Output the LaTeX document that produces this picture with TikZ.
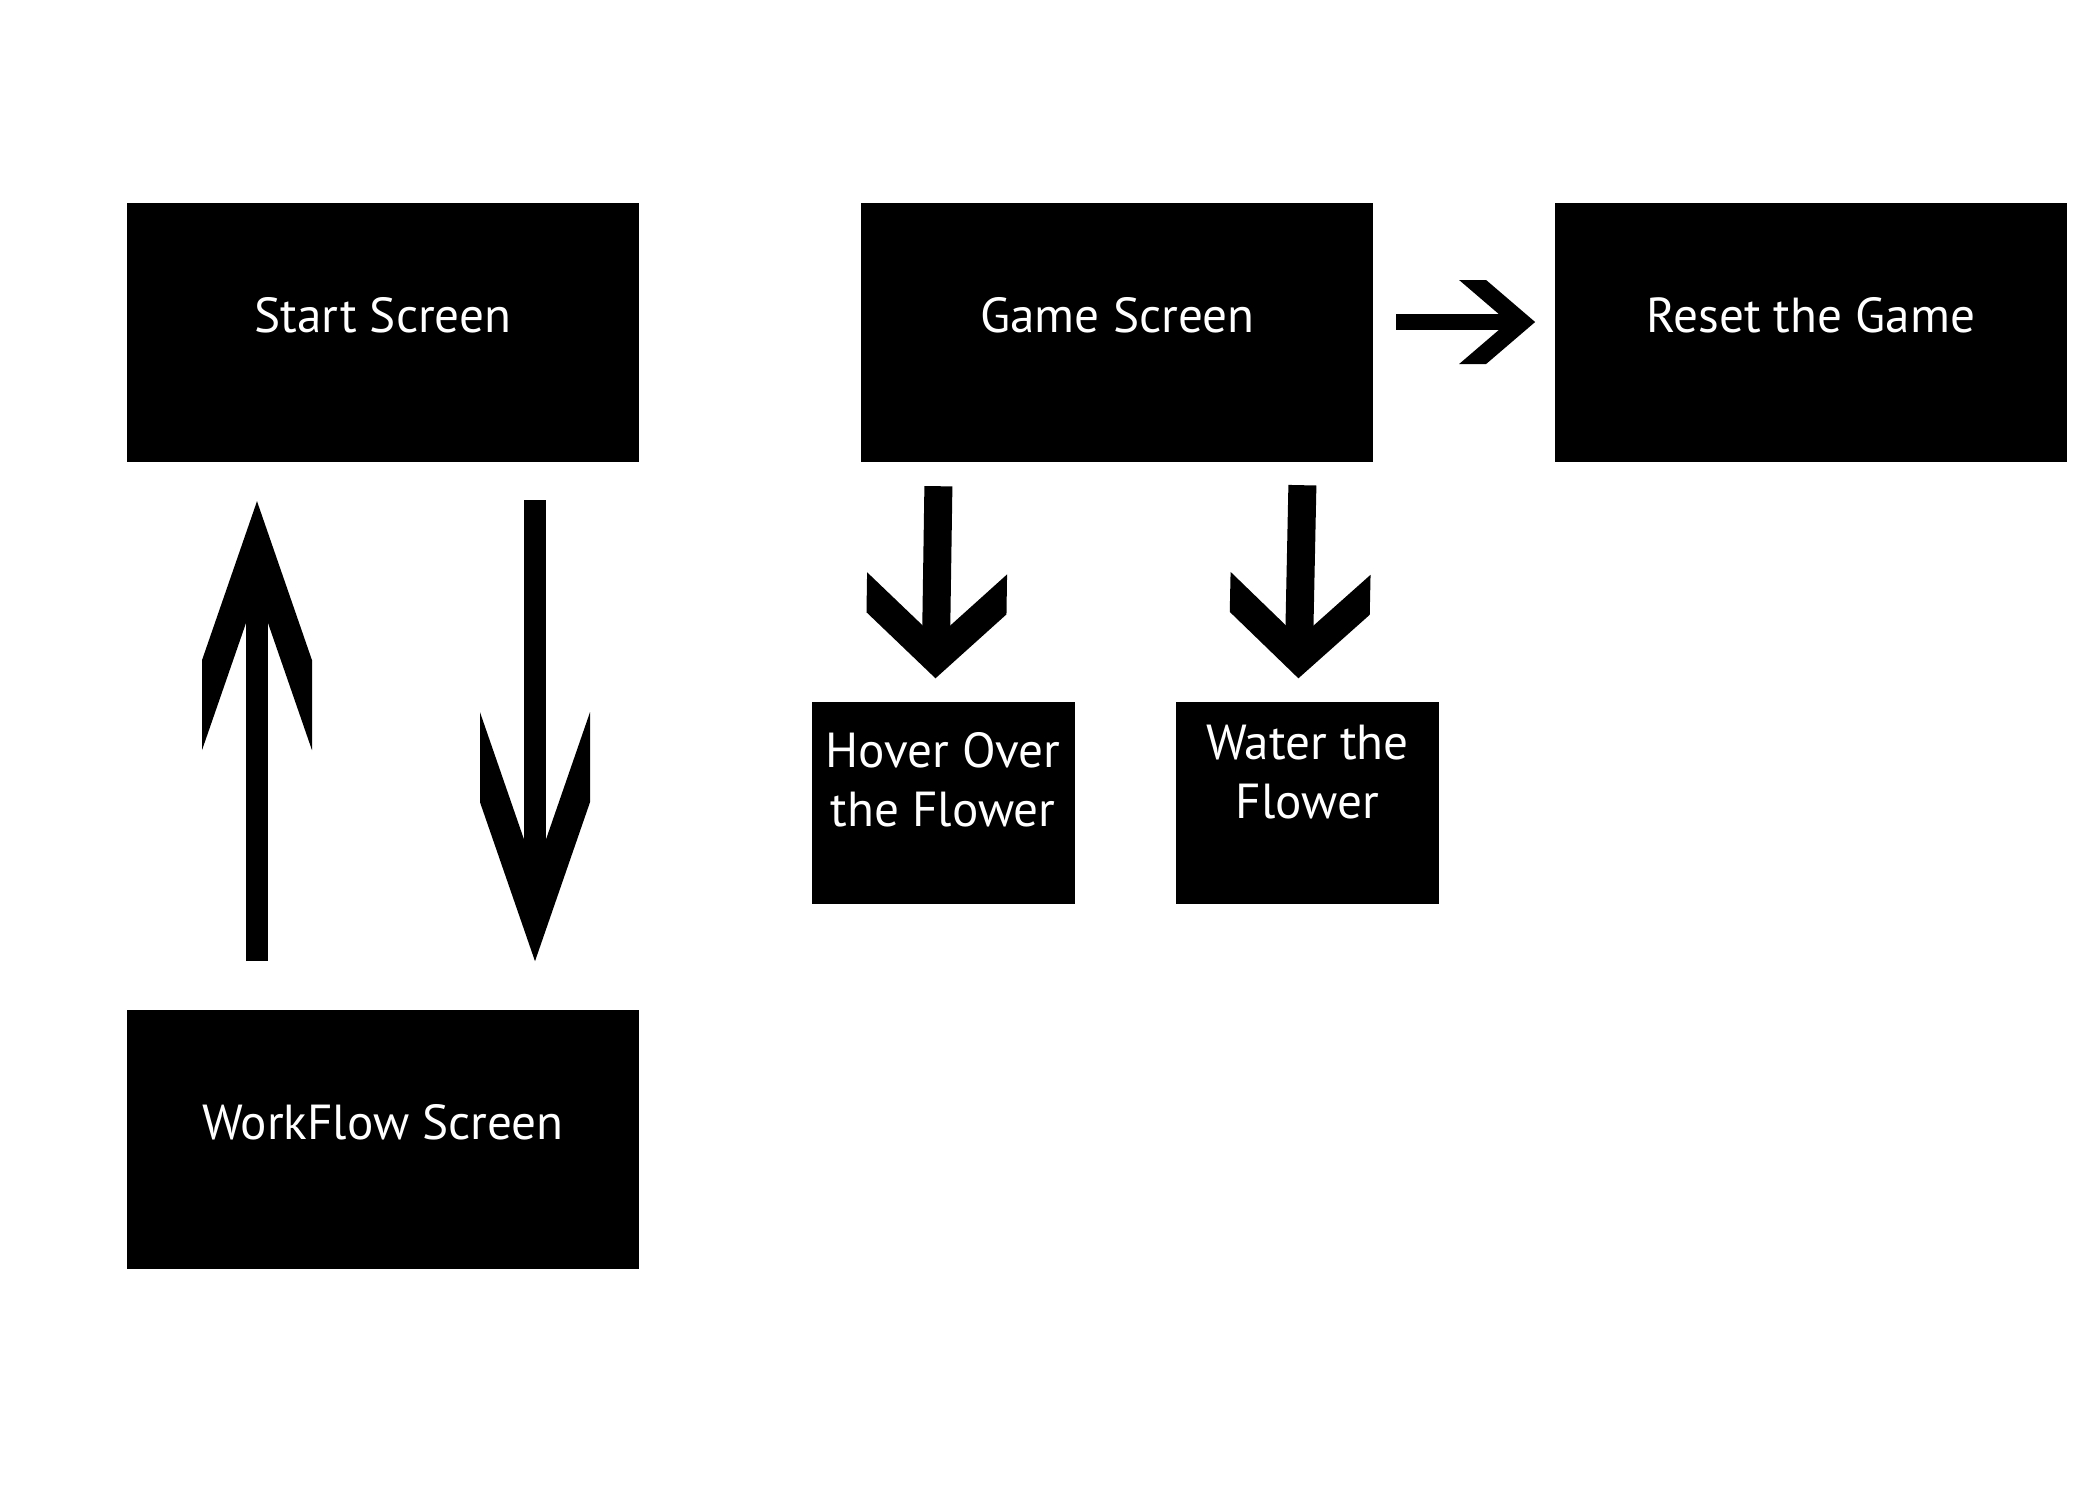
\documentclass[tikz,border=0pt]{standalone}
\usepackage{fontspec}
\setmainfont{PT Sans}
\usetikzlibrary{arrows.meta,calc,positioning}
% filled chevron head with a cut parallel to the shaft
\pgfdeclarearrow{
	name = Chevron,
	parameters = {\the\pgfarrowlength,\the\pgfarrowwidth,\the\pgfarrowinset},
	setup code = {
		\pgfarrowssettipend{0pt}
		\pgfarrowssetlineend{-\pgfarrowinset}
		\pgfarrowssetbackend{-\pgfarrowlength}
		\pgfarrowssavethe\pgfarrowlength
		\pgfarrowssavethe\pgfarrowwidth
		\pgfarrowssavethe\pgfarrowinset
	},
	drawing code = {
		\pgfpathmoveto{\pgfpointorigin}
		\pgfpathlineto{\pgfpoint{\pgfarrowinset-\pgfarrowlength}{.5\pgfarrowwidth}}
		\pgfpathlineto{\pgfpoint{-\pgfarrowlength}{.5\pgfarrowwidth}}
		\pgfpathlineto{\pgfpoint{-\pgfarrowinset}{0pt}}
		\pgfpathlineto{\pgfpoint{-\pgfarrowlength}{-.5\pgfarrowwidth}}
		\pgfpathlineto{\pgfpoint{\pgfarrowinset-\pgfarrowlength}{-.5\pgfarrowwidth}}
		\pgfpathclose
		\pgfusepathqfill
	},
	defaults = {length=5mm, width=5mm, inset=2mm}
}
\tikzset{%
	screen/.style    = {fill=black, text=white, minimum width=5.12cm, minimum height=2.59cm, inner sep=0pt, font=\fontsize{14pt}{16.8pt}\selectfont, text height=3.5mm, text depth=3.5mm}, % Screen box
	task/.style      = {fill=black, text=white, minimum width=2.63cm, minimum height=2.02cm, inner sep=0pt, align=center, font=\fontsize{14pt}{16.8pt}\selectfont}, % Task box
	longarrow/.style = {line width=2.2mm, -{Chevron[length=24.9mm, width=11mm, inset=9mm]}},
	downarrow/.style = {line width=2.8mm, -{Chevron[length=10.5mm, width=14mm, inset=4mm]}},
	sidearrow/.style = {line width=1.6mm, -{Chevron[length=7.6mm, width=8.4mm, inset=2.7mm]}},
}

\begin{document}
\begin{tikzpicture}
	\useasboundingbox (0,0) rectangle (21,-15);
	\node [screen] (start) at (3.83,-3.32) {Start Screen};
	\node [screen] (game) [right=2.21cm of start] {Game Screen};
	\node [screen] (reset) [right=1.8cm of game] {Reset the Game};
	\node [screen] (workflow) [below=5.47cm of start] {WorkFlow Screen};
	\node [task, text depth=4.7mm] (hover) at (9.43,-8.03) {Hover Over\\the Flower};
	\node [task, text depth=6.3mm] (water) [right=1cm of hover] {Water the\\Flower};
	
	\draw[longarrow] ([xshift=-1.26cm,yshift=4.8mm]workflow.north) -- ([xshift=-1.26cm,yshift=-3.9mm]start.south);
	\draw[longarrow] ([xshift=1.52cm,yshift=-3.8mm]start.south) -- ([xshift=1.52cm,yshift=4.8mm]workflow.north);
	\draw[downarrow] ([xshift=-1.79cm,yshift=-2.4mm]game.south) -- ([xshift=-0.75mm,yshift=2.3mm]hover.north);
	\draw[downarrow] ([xshift=1.85cm,yshift=-2.3mm]game.south) -- ([xshift=-0.9mm,yshift=2.3mm]water.north);
	\draw[sidearrow] ([xshift=2.2mm,yshift=1mm]game.east) -- ([xshift=-1.9mm,yshift=1mm]reset.west);
\end{tikzpicture}
\end{document}
